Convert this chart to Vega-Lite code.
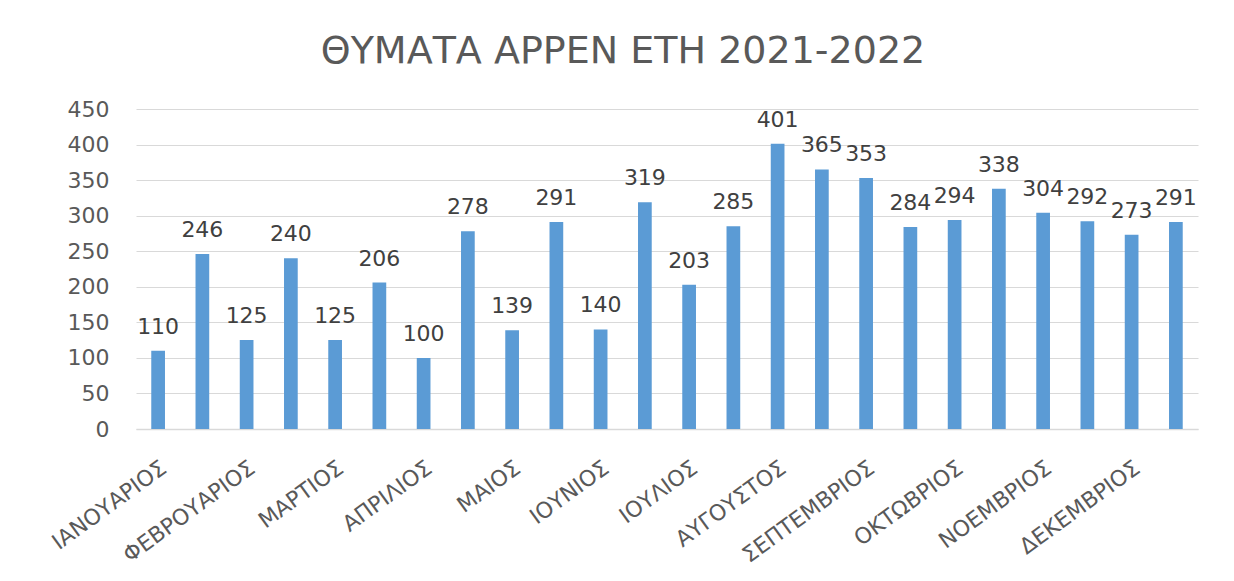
{
  "$schema": "https://vega.github.io/schema/vega-lite/v6.json",
  "width": 1062,
  "height": 320,
  "padding": {"left": 48, "top": 33, "right": 20, "bottom": 5},
  "background": "white",
  "title": {
    "text": "ΘΥΜΑΤΑ ΑΡΡΕΝ ΕΤΗ 2021-2022",
    "font": "DejaVu Sans",
    "fontSize": 38,
    "fontWeight": "normal",
    "color": "#595959",
    "anchor": "middle",
    "frame": "bounds",
    "offset": 27
  },
  "data": {
    "values": [
      {"k": 1, "v": 110}, {"k": 2, "v": 246}, {"k": 3, "v": 125}, {"k": 4, "v": 240},
      {"k": 5, "v": 125}, {"k": 6, "v": 206}, {"k": 7, "v": 100}, {"k": 8, "v": 278},
      {"k": 9, "v": 139}, {"k": 10, "v": 291}, {"k": 11, "v": 140}, {"k": 12, "v": 319},
      {"k": 13, "v": 203}, {"k": 14, "v": 285}, {"k": 15, "v": 401}, {"k": 16, "v": 365},
      {"k": 17, "v": 353}, {"k": 18, "v": 284}, {"k": 19, "v": 294}, {"k": 20, "v": 338},
      {"k": 21, "v": 304}, {"k": 22, "v": 292}, {"k": 23, "v": 273}, {"k": 24, "v": 291}
    ]
  },
  "encoding": {
    "x": {
      "field": "k",
      "type": "ordinal",
      "sort": "ascending",
      "scale": {"paddingInner": 0.69, "paddingOuter": 0.345},
      "axis": {
        "title": null,
        "labelAngle": -36,
        "labelExpr": "datum.value % 2 == 1 ? ['ΙΑΝΟΥΑΡΙΟΣ','ΦΕΒΡΟΥΑΡΙΟΣ','ΜΑΡΤΙΟΣ','ΑΠΡΙΛΙΟΣ','ΜΑΙΟΣ','ΙΟΥΝΙΟΣ','ΙΟΥΛΙΟΣ','ΑΥΓΟΥΣΤΟΣ','ΣΕΠΤΕΜΒΡΙΟΣ','ΟΚΤΩΒΡΙΟΣ','ΝΟΕΜΒΡΙΟΣ','ΔΕΚΕΜΒΡΙΟΣ'][(datum.value - 1) / 2] : ''",
        "labelOverlap": false,
        "labelFont": "DejaVu Sans",
        "labelFontSize": 22,
        "labelColor": "#595959",
        "labelPadding": 28,
        "ticks": false,
        "domainColor": "#D9D9D9",
        "domainWidth": 1.5
      }
    },
    "y": {
      "field": "v",
      "type": "quantitative",
      "scale": {"domain": [0, 450]},
      "axis": {
        "title": null,
        "values": [0, 50, 100, 150, 200, 250, 300, 350, 400, 450],
        "labelFont": "DejaVu Sans",
        "labelFontSize": 22,
        "labelColor": "#595959",
        "labelPadding": 27,
        "ticks": false,
        "domain": false,
        "gridColor": "#D9D9D9",
        "gridWidth": 1
      }
    }
  },
  "layer": [
    {"mark": {"type": "bar", "color": "#5B9BD5"}},
    {
      "mark": {
        "type": "text",
        "baseline": "bottom",
        "dy": -12,
        "font": "DejaVu Sans",
        "fontSize": 22,
        "color": "#404040"
      },
      "encoding": {"text": {"field": "v", "type": "quantitative"}}
    }
  ],
  "config": {"view": {"stroke": null}}
}
